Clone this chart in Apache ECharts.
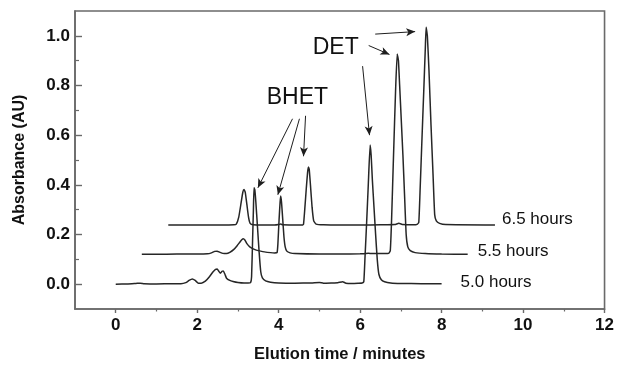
<!DOCTYPE html>
<html>
<head>
<meta charset="utf-8">
<script src="https://cdn.jsdelivr.net/npm/echarts@6/dist/echarts.min.js"></script>
<style>
  html, body { margin: 0; padding: 0; background: #fff; }
  #chart { width: 617px; height: 368px; }
</style>
</head>
<body>
<div id="chart"></div>
<script>
// HPLC chromatograms of the glycolysis product at three reaction times.
// Each trace is [elution time (min), absorbance (AU)], offset vertically.
const trace50 = [
  [0,0],[0.3,0.001],[0.5,0.003],[0.6,0.004],[0.7,0.002],[1.0,0.001],[1.4,0.002],[1.6,0.002],
  [1.72,0.006],[1.8,0.015],[1.88,0.021],[1.95,0.015],[2.03,0.004],[2.1,0.004],[2.2,0.012],
  [2.3,0.03],[2.38,0.048],[2.45,0.06],[2.49,0.061],[2.53,0.052],[2.57,0.044],[2.61,0.052],
  [2.64,0.053],[2.68,0.04],[2.72,0.024],[2.8,0.015],[2.88,0.011],[3.0,0.007],[3.15,0.005],
  [3.25,0.005],[3.31,0.006],[3.335,0.03],[3.36,0.18],[3.38,0.3],[3.395,0.388],[3.415,0.38],
  [3.44,0.33],[3.48,0.23],[3.52,0.13],[3.56,0.05],[3.6,0.025],[3.68,0.013],[3.8,0.008],
  [4.0,0.005],[4.4,0.004],[4.8,0.005],[5.0,0.007],[5.1,0.004],[5.3,0.005],[5.45,0.006],
  [5.57,0.01],[5.65,0.004],[5.8,0.003],[5.95,0.004],[6.05,0.005],[6.09,0.01],[6.12,0.11],
  [6.16,0.25],[6.2,0.4],[6.245,0.56],[6.27,0.52],[6.3,0.42],[6.34,0.31],[6.38,0.2],[6.42,0.1],
  [6.46,0.04],[6.52,0.018],[6.6,0.01],[6.75,0.005],[7.0,0.003],[7.5,0.002],[8.0,0.002]
];
const trace55 = [
  [0.64,0.12],[1.0,0.12],[1.5,0.121],[2.0,0.121],[2.25,0.122],[2.35,0.126],[2.43,0.132],
  [2.49,0.133],[2.55,0.129],[2.63,0.124],[2.72,0.123],[2.8,0.128],[2.9,0.14],[2.98,0.155],
  [3.05,0.17],[3.1,0.18],[3.13,0.183],[3.17,0.178],[3.22,0.163],[3.29,0.15],[3.36,0.143],
  [3.45,0.137],[3.53,0.134],[3.65,0.13],[3.8,0.127],[3.9,0.126],[3.96,0.127],[3.98,0.16],
  [4.01,0.26],[4.035,0.33],[4.05,0.355],[4.07,0.33],[4.1,0.26],[4.13,0.19],[4.16,0.15],
  [4.2,0.133],[4.28,0.126],[4.4,0.123],[5.0,0.121],[5.5,0.121],[6.0,0.122],[6.2,0.124],
  [6.3,0.123],[6.6,0.123],[6.7,0.124],[6.74,0.135],[6.77,0.25],[6.82,0.52],[6.87,0.78],
  [6.91,0.927],[6.94,0.9],[6.97,0.8],[7.01,0.66],[7.05,0.52],[7.09,0.36],[7.13,0.2],
  [7.17,0.15],[7.23,0.135],[7.35,0.127],[7.6,0.123],[8.0,0.121],[8.64,0.12]
];
const trace65 = [
  [1.29,0.238],[2.0,0.238],[2.6,0.238],[2.9,0.239],[2.96,0.242],[3.02,0.27],[3.08,0.33],
  [3.12,0.37],[3.15,0.381],[3.18,0.37],[3.22,0.32],[3.26,0.27],[3.3,0.245],[3.38,0.239],
  [3.6,0.238],[3.9,0.238],[4.0,0.24],[4.05,0.242],[4.1,0.239],[4.5,0.238],[4.58,0.238],
  [4.61,0.242],[4.64,0.3],[4.68,0.39],[4.71,0.45],[4.73,0.472],[4.75,0.462],[4.78,0.4],
  [4.82,0.31],[4.86,0.255],[4.92,0.242],[5.1,0.239],[5.5,0.238],[6.0,0.238],[6.5,0.239],
  [6.85,0.24],[6.95,0.245],[7.05,0.24],[7.3,0.239],[7.4,0.241],[7.44,0.25],[7.47,0.37],
  [7.51,0.55],[7.56,0.77],[7.6,0.95],[7.62,1.035],[7.65,1.0],[7.69,0.86],[7.74,0.64],
  [7.79,0.44],[7.83,0.28],[7.87,0.255],[7.95,0.245],[8.1,0.24],[9.31,0.238]
];

const traceNames = ['5.0 hours', '5.5 hours', '6.5 hours'];

// Tick positions
const xMajorTicks = [0, 2, 4, 6, 8, 10, 12];
const xMinorTicks = [1, 3, 5, 7, 9, 11];
const yMajorTicks = [0, 0.2, 0.4, 0.6, 0.8, 1.0];
const yMinorTicks = [0.1, 0.3, 0.5, 0.7, 0.9];

// Peak assignments: label anchor and arrow segments [from, to] in data units
const bhetLabel = [4.46, 0.75];
const bhetArrows = [
  [[4.34, 0.666], [3.49, 0.388]],
  [[4.51, 0.666], [3.98, 0.36]],
  [[4.66, 0.678], [4.61, 0.515]]
];
const detLabel = [5.40, 0.952];
const detArrows = [
  [[6.06, 0.878], [6.23, 0.60]],
  [[6.21, 0.961], [6.72, 0.925]],
  [[6.37, 1.007], [7.35, 1.017]]
];

const FONT = 'Liberation Sans, Arial, Helvetica, sans-serif';
const AXIS_GRAY = '#6a6a6a';
const TRACE = '#262626';

const chart = echarts.init(document.getElementById('chart'), null, { renderer: 'canvas' });

function traceSeries(data, name, distance, dy, extra) {
  return Object.assign({
    type: 'line',
    name: name,
    data: data,
    xAxisIndex: 0,
    yAxisIndex: 0,
    showSymbol: false,
    symbol: 'none',
    smooth: 0.15,
    lineStyle: { color: TRACE, width: 1.5 },
    endLabel: {
      show: true,
      formatter: name,
      distance: distance,
      offset: [0, dy],
      fontFamily: FONT,
      fontSize: 17,
      color: '#111'
    },
    silent: true,
    emphasis: { disabled: true }
  }, extra || {});
}

function arrowLines(list) {
  return list.map(function (seg) {
    return [{ coord: seg[0] }, { coord: seg[1] }];
  });
}

const annotations = {
  markLine: {
    silent: true,
    symbol: ['none', 'arrow'],
    symbolSize: [6, 9],
    label: { show: false },
    lineStyle: { color: '#1e1e1e', width: 1, type: 'solid' },
    emphasis: { disabled: true },
    data: arrowLines(bhetArrows).concat(arrowLines(detArrows))
  },
  markPoint: {
    silent: true,
    symbol: 'circle',
    symbolSize: 1,
    itemStyle: { color: 'rgba(0,0,0,0)' },
    label: {
      show: true,
      position: 'inside',
      formatter: '{b}',
      fontFamily: FONT,
      fontSize: 23,
      color: '#111'
    },
    data: [
      { name: 'BHET', coord: bhetLabel },
      { name: 'DET', coord: detLabel }
    ]
  }
};

chart.setOption({
  animation: false,
  backgroundColor: '#fff',
  grid: {
    left: 75, right: 11, top: 11, bottom: 54,
    show: true, borderColor: AXIS_GRAY, borderWidth: 1.6, backgroundColor: 'transparent'
  },
  xAxis: [
    {
      type: 'value', min: -1, max: 12, position: 'bottom',
      axisLine: { show: true, onZero: false, lineStyle: { color: AXIS_GRAY, width: 1.6 } },
      axisTick: { show: true, inside: false, length: 4, customValues: xMajorTicks,
                  lineStyle: { color: AXIS_GRAY, width: 1.4 } },
      axisLabel: { customValues: xMajorTicks, margin: 8, fontFamily: FONT, fontSize: 17,
                   fontWeight: 'bold', color: '#111' },
      splitLine: { show: false },
      name: 'Elution time / minutes', nameLocation: 'middle', nameGap: 37,
      nameTextStyle: { fontFamily: FONT, fontSize: 16.5, fontWeight: 'bold', color: '#111' }
    },
    {
      type: 'value', min: -1, max: 12, position: 'bottom',
      axisLine: { show: false, onZero: false },
      axisTick: { show: true, inside: false, length: 2.5, customValues: xMinorTicks,
                  lineStyle: { color: AXIS_GRAY, width: 1.2 } },
      axisLabel: { show: false },
      splitLine: { show: false }
    }
  ],
  yAxis: [
    {
      type: 'value', min: -0.1, max: 1.1, position: 'left',
      axisLine: { show: true, onZero: false, lineStyle: { color: AXIS_GRAY, width: 1.6 } },
      axisTick: { show: true, inside: true, length: 7, customValues: yMajorTicks,
                  lineStyle: { color: AXIS_GRAY, width: 1.4 } },
      axisLabel: { customValues: yMajorTicks, margin: 5, fontFamily: FONT, fontSize: 17,
                   fontWeight: 'bold', color: '#111',
                   formatter: function (v) { return v.toFixed(1); } },
      splitLine: { show: false },
      name: 'Absorbance (AU)', nameLocation: 'middle', nameGap: 47, nameRotate: 90,
      nameTextStyle: { fontFamily: FONT, fontSize: 16, fontWeight: 'bold', color: '#111' }
    },
    {
      type: 'value', min: -0.1, max: 1.1, position: 'left',
      axisLine: { show: false, onZero: false },
      axisTick: { show: true, inside: true, length: 4, customValues: yMinorTicks,
                  lineStyle: { color: AXIS_GRAY, width: 1.2 } },
      axisLabel: { show: false },
      splitLine: { show: false }
    }
  ],
  series: [
    traceSeries(trace50, traceNames[0], 19, -1),
    traceSeries(trace55, traceNames[1], 10, -3),
    traceSeries(trace65, traceNames[2], 7, -6, annotations)
  ]
});
</script>
</body>
</html>
